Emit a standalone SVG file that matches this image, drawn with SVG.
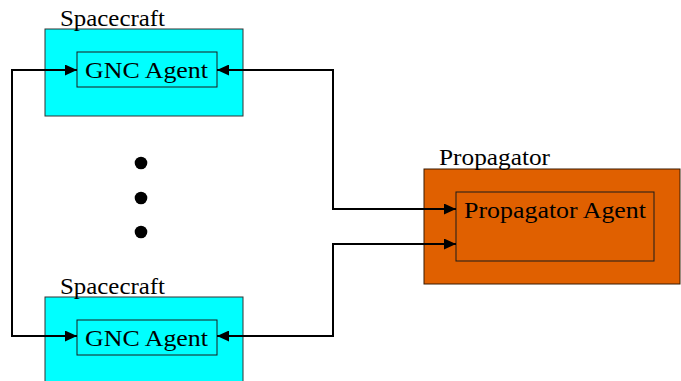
<svg xmlns="http://www.w3.org/2000/svg" width="681" height="381" viewBox="0 0 681 381">
<style>
.sc{fill:#00FFFF;stroke:#333;stroke-width:1}
.pr{fill:#E06000;stroke:#3a1a00;stroke-width:1}
.in{fill:none;stroke:#1a1a1a;stroke-width:1}
.t{font-family:"Liberation Serif","Times New Roman",serif;font-size:23px;fill:#000}
.c{fill:none;stroke:#000;stroke-width:2;marker-start:url(#ah);marker-end:url(#ah)}
</style>
<defs>
<marker id="ah" viewBox="0 0 12 11" refX="12" refY="5.5" markerWidth="12" markerHeight="11" markerUnits="userSpaceOnUse" orient="auto-start-reverse">
<path d="M0,0 L12,5.5 L0,11 Z" fill="#000"/>
</marker>
</defs>
<g id="spacecraft1">
<rect class="sc" x="45" y="29" width="198" height="87"/>
<text class="t" x="60" y="26" textLength="105" lengthAdjust="spacingAndGlyphs">Spacecraft</text>
</g>
<g id="gnc1">
<rect class="in" x="77" y="52" width="140" height="35"/>
<text class="t" x="85" y="78" textLength="123" lengthAdjust="spacingAndGlyphs">GNC Agent</text>
</g>
<g id="spacecraft2">
<rect class="sc" x="45" y="297" width="198" height="90"/>
<text class="t" x="60" y="294" textLength="105" lengthAdjust="spacingAndGlyphs">Spacecraft</text>
</g>
<g id="gnc2">
<rect class="in" x="77" y="320" width="140" height="35"/>
<text class="t" x="85" y="346" textLength="123" lengthAdjust="spacingAndGlyphs">GNC Agent</text>
</g>
<g id="propagator">
<rect class="pr" x="424" y="169" width="256" height="115"/>
<text class="t" x="439" y="165" textLength="111" lengthAdjust="spacingAndGlyphs">Propagator</text>
</g>
<g id="propagatorAgent">
<rect class="in" x="456" y="192" width="198" height="69"/>
<text class="t" x="464" y="218" textLength="182" lengthAdjust="spacingAndGlyphs">Propagator Agent</text>
</g>
<g id="ellipsis">
<circle cx="141" cy="163" r="6.3" fill="#000"/>
<circle cx="141" cy="198" r="6.3" fill="#000"/>
<circle cx="141" cy="232" r="6.3" fill="#000"/>
</g>
<g id="connectors">
<path class="c" d="M77,70 H12 V336 H77"/>
<path class="c" d="M217,70 H333 V209 H456"/>
<path class="c" d="M217,336 H333 V244 H456"/>
</g>
</svg>
